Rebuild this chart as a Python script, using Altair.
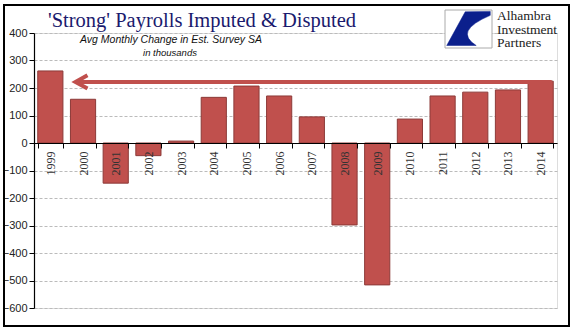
import altair as alt
import pandas as pd

years = [str(y) for y in range(1999, 2015)]
values = [262, 159, -146, -46, 7, 166, 207, 171, 95, -298, -516, 87, 171, 185, 193, 225]

title_text = "'Strong' Payrolls Imputed & Disputed"
subtitle_text = "Avg Monthly Change in Est. Survey SA"
unit_text = "in thousands"
logo_lines = ["Alhambra", "Investment", "Partners"]
y_ticks = [-600, -500, -400, -300, -200, -100, 0, 100, 200, 300, 400]

# arrow annotation: from the 2014 level back to 1999
arrow_level = 222
arrow_from = "2014"
arrow_to = "2000"

W, H = 523, 275
RED = "#C0504D"
RED_DARK = "#8C3A38"

df = pd.DataFrame({"year": years, "value": values})

xscale = alt.Scale(domain=years, paddingInner=0.23, paddingOuter=0.115)
yscale = alt.Scale(domain=[-600, 400], nice=False)

xaxis = alt.Axis(title=None, orient="bottom", offset=-165, labelAngle=-90,
                 labelFont="Liberation Serif", labelFontSize=12, labelColor="#333333",
                 domainColor="#000000", domainWidth=1.2, tickColor="#000000",
                 tickSize=5, tickBand="extent", labelPadding=3, grid=False, zindex=1)
yaxis = alt.Axis(title=None, values=y_ticks, labelOverlap=False,
                 labelFont="Liberation Sans", labelFontSize=11, labelColor="#222222",
                 domainColor="#000000", domainWidth=1.2, tickColor="#000000",
                 tickSize=5, labelPadding=2,
                 grid=True, gridColor="#bbbbbb", gridDash=[3, 2], gridWidth=1)

base = alt.Chart(df)

bars = base.mark_bar(fill=RED, stroke=RED_DARK, strokeWidth=1).encode(
    x=alt.X("year:N", scale=xscale, sort=years, axis=xaxis),
    y=alt.Y("value:Q", scale=yscale, axis=yaxis),
)

arrow_df = pd.DataFrame({"x_from": [arrow_from], "x_to": [arrow_to], "level": [arrow_level]})
arrow_base = alt.Chart(arrow_df)
arrow_line = arrow_base.mark_rule(color=RED, strokeWidth=4).encode(
    x=alt.X("x_from:N", scale=xscale, bandPosition=0.94, axis=xaxis),
    x2=alt.X2("x_to:N", bandPosition=0.3),
    y=alt.Y("level:Q", scale=yscale, axis=yaxis),
)
arrow_head = arrow_base.mark_point(
    shape="M1,-0.55 L0,0 L1,0.55", filled=False, stroke=RED, strokeWidth=4,
    size=576, opacity=1,
).encode(
    x=alt.X("x_to:N", scale=xscale, bandPosition=0.2, axis=xaxis),
    y=alt.Y("level:Q", scale=yscale, axis=yaxis),
)

one = pd.DataFrame({"k": [0]})
ob = alt.Chart(one)

title = ob.mark_text(text=title_text, font="Liberation Serif", fontSize=20.5,
                     color="#1a1a6e", align="left", baseline="alphabetic").encode(
    x=alt.value(14), y=alt.value(-6))
subtitle = ob.mark_text(text=subtitle_text, font="Liberation Sans", fontSize=10.5,
                        fontStyle="italic", color="#111111", align="center",
                        baseline="alphabetic").encode(x=alt.value(137), y=alt.value(10))
unit = ob.mark_text(text=unit_text, font="Liberation Sans", fontSize=9.5,
                    fontStyle="italic", color="#111111", align="center",
                    baseline="alphabetic").encode(x=alt.value(136), y=alt.value(23))

# logo
logo_box = ob.mark_rect(fill="white", stroke="#aaaaaa", strokeWidth=1).encode(
    x=alt.value(411), x2=alt.value(458), y=alt.value(-23), y2=alt.value(15))
logo_shape = ob.mark_point(
    shape="M0.99,-0.8 L-0.15,-0.78 L-0.99,0.75 L0.35,0.75 Q-0.7,0.1 0.99,-0.62 Z",
    filled=True, fill="#0b1f8c", stroke="#0b1f8c", strokeWidth=0.5, size=1936, opacity=1,
).encode(x=alt.value(434.5), y=alt.value(-4))
logo_texts = [
    ob.mark_text(text=line, font="Liberation Serif", fontSize=13.5, color="#222222",
                 align="left", baseline="alphabetic").encode(
        x=alt.value(463), y=alt.value(-12.6 + 13.2 * i))
    for i, line in enumerate(logo_lines)
]

border = ob.mark_rect(filled=False, stroke="#000000", strokeWidth=2).encode(
    x=alt.value(-30), x2=alt.value(535), y=alt.value(-28), y2=alt.value(293))

chart = alt.layer(
    bars, arrow_line, arrow_head, title, subtitle, unit,
    logo_box, logo_shape, *logo_texts, border
).properties(
    width=W, height=H,
    padding={"left": 34, "top": 33, "right": 20, "bottom": 26},
    autosize=alt.AutoSizeParams(type="none"),
).configure_view(stroke="#888888", strokeWidth=1.2).configure(background="white")

chart.save("out.html", embed_options={"renderer": "svg", "actions": False})
